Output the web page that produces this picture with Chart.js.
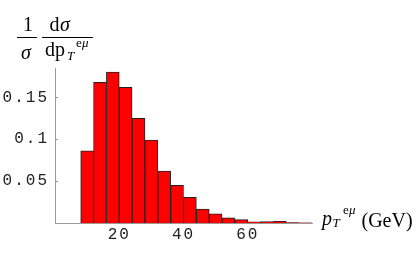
<!DOCTYPE html>
<html>
<head>
<meta charset="utf-8">
<script src="https://cdn.jsdelivr.net/npm/chart.js@4.4.0/dist/chart.umd.min.js"></script>
<style>
  html, body { margin: 0; padding: 0; background: #fff; }
  #c { display: block; }
</style>
</head>
<body>
<canvas id="c" width="416" height="257"></canvas>
<script>
// histogram bins (GeV), width 4
const binStart = [8, 12, 16, 20, 24, 28, 32, 36, 40, 44, 48, 52, 56, 60, 64, 68, 72, 76];
const density = [0.086, 0.168, 0.180, 0.162, 0.125, 0.099, 0.062, 0.045, 0.0305, 0.0167,
                 0.011, 0.0063, 0.004, 0.0015, 0.0018, 0.002, 0.0005, 0.0003];
const binWidth = 4;
const xTicks = [20, 40, 60];
const yTicks = [0.05, 0.1, 0.15];

const tickFont = { family: "'Liberation Mono', 'DejaVu Sans Mono', monospace", size: 16 };

// mathematica style: spaced-out courier numbers
const spacing = {
  id: 'spacing',
  beforeLayout(c) { c.ctx.letterSpacing = '2px'; },
  beforeDraw(c) { c.ctx.letterSpacing = '2px'; }
};

// small inward tick marks on the y axis + axis titles
const titles = {
  id: 'titles',
  afterDraw(c) {
    const ctx = c.ctx;
    const ys = c.scales.y;
    ctx.save();
    ctx.letterSpacing = '0px';
    ctx.strokeStyle = '#999';
    ctx.lineWidth = 1;
    yTicks.forEach(v => {
      const py = Math.round(ys.getPixelForValue(v)) + 0.5;
      ctx.beginPath(); ctx.moveTo(ys.right, py); ctx.lineTo(ys.right + 3, py); ctx.stroke();
    });
    ctx.fillStyle = '#000';
    ctx.strokeStyle = '#000';
    ctx.textBaseline = 'alphabetic';
    const serif = "'Liberation Serif', 'DejaVu Serif', serif";
    function t(s, x, y, font, align) {
      ctx.font = font;
      ctx.textAlign = align || 'left';
      ctx.fillText(s, x, y);
    }
    // 1/sigma
    t('1', 28, 31, '20px ' + serif, 'center');
    ctx.beginPath(); ctx.moveTo(17, 37.5); ctx.lineTo(37, 37.5); ctx.stroke();
    t('σ', 26, 58.5, 'italic 20px ' + serif, 'center');
    // dsigma / dpT^emu
    t('d', 49.5, 31, '20px ' + serif);
    t('σ', 60, 31, 'italic 20px ' + serif);
    ctx.beginPath(); ctx.moveTo(42, 37.5); ctx.lineTo(93, 37.5); ctx.stroke();
    t('dp', 45, 56, '20px ' + serif);
    t('T', 67, 60, 'italic 13px ' + serif);
    t('e', 76, 47, '13px ' + serif);
    t('μ', 82, 47, 'italic 13px ' + serif);
    // x title
    t('p', 322, 224.5, 'italic 20px ' + serif);
    t('T', 332.5, 227, 'italic 13px ' + serif);
    t('e', 343, 214, '13px ' + serif);
    t('μ', 349, 214, 'italic 13px ' + serif);
    t('(GeV)', 361.5, 226.5, '20px ' + serif);
    ctx.restore();
  }
};

const ctx = document.getElementById('c').getContext('2d');
const chart = new Chart(ctx, {
  type: 'bar',
  data: {
    datasets: [{
      data: binStart.map((s, i) => ({ x: s + binWidth / 2, y: density[i] })),
      backgroundColor: '#ff0000',
      borderColor: '#222222',
      borderWidth: 1,
      barPercentage: 1,
      categoryPercentage: 1
    }]
  },
  options: {
    responsive: false,
    animation: false,
    layout: { padding: { top: 68, right: 104, left: 0, bottom: 0 } },
    plugins: { legend: { display: false }, tooltip: { enabled: false } },
    scales: {
      x: {
        type: 'linear',
        min: 0,
        max: 80,
        offset: false,
        grid: { display: false, offset: false, drawTicks: false },
        border: { color: '#999' },
        ticks: { font: tickFont, color: '#222', maxRotation: 0, padding: 2 },
        afterBuildTicks: (s) => { s.ticks = xTicks.map(v => ({ value: v })); },
        afterFit: (s) => { s.height = 34; }
      },
      y: {
        min: 0,
        max: 0.185,
        grid: { display: false, drawTicks: false },
        border: { color: '#999' },
        ticks: { font: tickFont, color: '#222', padding: 6, callback: (v) => String(v) },
        afterBuildTicks: (s) => { s.ticks = yTicks.map(v => ({ value: v })); },
        afterFit: (s) => { s.width = 55; }
      }
    }
  },
  plugins: [spacing, titles]
});
</script>
</body>
</html>
